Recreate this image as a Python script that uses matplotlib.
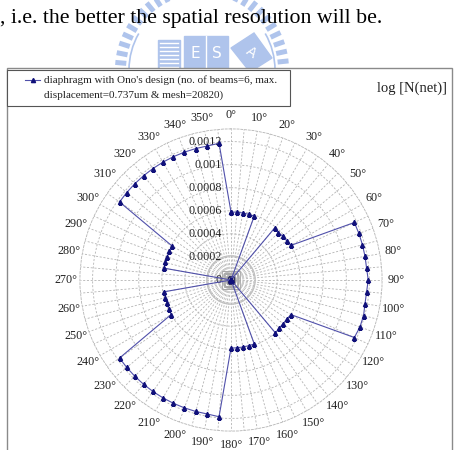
import numpy as np
import matplotlib
matplotlib.use('Agg')
import matplotlib.pyplot as plt
from matplotlib.transforms import offset_copy
from matplotlib.patches import Rectangle, Arc, Polygon

plt.rcParams['font.family'] = ['Liberation Serif', 'DejaVu Serif']

# ---------------- data ----------------
angles_deg = list(range(0, 360, 5))
n_net = [
    0.00059, 0.00059, 0.00059, 0.00059, 0.00059,          # 0-20
    0.0, 0.0, 0.0,                                          # 25-35
    0.00059, 0.00058, 0.00059, 0.00059, 0.00060,          # 40-60
    0.00118, 0.00118, 0.00118, 0.00118, 0.00118, 0.00119,
    0.00118, 0.00118, 0.00119, 0.00119, 0.00118,          # 65-115
    0.00060, 0.00059, 0.00059, 0.00059, 0.00060,          # 120-140
    0.0, 0.0, 0.0,                                          # 145-155
    0.00059, 0.00059, 0.00059, 0.00059, 0.00059,          # 160-180
    0.00119, 0.00118, 0.00118, 0.00118, 0.00118, 0.00118,
    0.00118, 0.00118, 0.00118, 0.00118, 0.00118,          # 185-235
    0.00060, 0.00059, 0.00059, 0.00059, 0.00059,          # 240-260
    0.0, 0.0, 0.0,                                          # 265-275
    0.00059, 0.00059, 0.00059, 0.00059, 0.00059,          # 280-300
    0.00118, 0.00118, 0.00118, 0.00118, 0.00118, 0.00118,
    0.00118, 0.00118, 0.00118, 0.00118, 0.00119,          # 305-355
]
radial_ticks = [0, 0.0002, 0.0004, 0.0006, 0.0008, 0.001, 0.0012]
radial_labels = ['0', '0.0002', '0.0004', '0.0006', '0.0008', '0.001', '0.0012']
label_angles = [0, 10, 20, 30, 40, 50, 60, 70, 80, 90, 100, 110, 120, 130, 140, 150, 160, 170,
                180, 190, 200, 210, 220, 230, 240, 250, 260, 270, 280, 290, 300, 310, 320, 330, 340, 350]
series_name = ["diaphragm with Ono's design (no. of beams=6, max.",
               "displacement=0.737um & mesh=20820)"]
chart_title = "log [N(net)]"
page_text = ", i.e. the better the spatial resolution will be."

# ---------------- figure ----------------
W, H = 457, 450
fig = plt.figure(figsize=(W / 100, H / 100), dpi=100)
fig.patch.set_facecolor('white')

bg = fig.add_axes([0, 0, 1, 1], zorder=0)
bg.set_xlim(0, W)
bg.set_ylim(H, 0)
bg.axis('off')

# watermark logo (light blue)
wm = '#afc4ec'
cx, cy, rr = 202, 70, 87
for a in np.arange(-20, 201, 6.5):
    t = np.deg2rad(a)
    x0, y0 = cx + (rr - 11) * np.cos(t), cy - (rr - 11) * np.sin(t)
    x1, y1 = cx + rr * np.cos(t), cy - rr * np.sin(t)
    bg.plot([x0, x1], [y0, y1], color=wm, lw=3.6, solid_capstyle='butt', zorder=0)
bg.add_patch(Arc((cx, cy), 146, 146, theta1=-30, theta2=210, color=wm, lw=1.2, zorder=0))
bg.add_patch(Rectangle((158, 40), 22, 30, color=wm, zorder=0))
for yy in range(43, 70, 4):
    bg.plot([160, 178], [yy, yy], color='white', lw=1.0, zorder=0)
bg.add_patch(Rectangle((184, 36), 44, 34, color=wm, zorder=0))
bg.plot([206, 206], [36, 70], color='white', lw=1.0, zorder=0)
bg.text(195, 53, 'E', color='white', fontsize=11, ha='center', va='center', family='DejaVu Sans', zorder=0)
bg.text(217, 53, 'S', color='white', fontsize=11, ha='center', va='center', family='DejaVu Sans', zorder=0)
bg.add_patch(Polygon([[231, 48], [254, 33], [272, 58], [250, 72]], closed=True, color=wm, zorder=0))
bg.text(251, 52, 'A', color='white', fontsize=10, ha='center', va='center', rotation=-35,
        family='DejaVu Sans', zorder=0)

# page text
bg.text(0, 18, page_text, fontsize=15.7, ha='left', va='center', color='black', zorder=2)

# chart frame (opaque)
bg.add_patch(Rectangle((7, 68), 445, 390, facecolor='white', edgecolor='#8a8a8a', lw=1.0, zorder=1))
bg.text(447, 88, chart_title, fontsize=10.5, ha='right', va='center', color='#222222', zorder=2)

# ---------------- polar plot ----------------
rmax = 0.00131
Rpx = 138.4 * rmax / 0.0012
cxp, cyp = 231, 280
ax = fig.add_axes([(cxp - Rpx) / W, (H - cyp - Rpx) / H, 2 * Rpx / W, 2 * Rpx / H],
                  projection='polar', zorder=3)
ax.set_facecolor('none')
ax.set_theta_zero_location('N')
ax.set_theta_direction(-1)
ax.set_ylim(0, rmax)

gcol = '#b4b4b4'
grid_kw = dict(color=gcol, lw=0.6, ls=(0, (2.5, 2)))
ax.set_thetagrids(angles_deg, labels=[''] * len(angles_deg))
ax.set_rgrids(radial_ticks[1:], labels=[''] * (len(radial_ticks) - 1))
ax.xaxis.grid(True, **grid_kw)
ax.yaxis.grid(True, **grid_kw)
ax.spines['polar'].set_color(gcol)
ax.spines['polar'].set_linewidth(0.6)
ax.spines['polar'].set_linestyle((0, (2.5, 2)))

# angle labels
for a in label_angles:
    ax.text(np.deg2rad(a), 0.00143, f"{a}°", ha='center', va='center', fontsize=8.7,
            color='#222222', clip_on=False, zorder=5)

# center clutter (concentric squares)
for s in [3, 5.5, 8, 10.5, 13]:
    ax.plot([0], [0], marker='s', ms=s, mfc='none', mec='#a8a8a8', mew=0.6, zorder=2)
ax.plot([0], [0], marker='s', ms=4, mfc='none', mec='#333366', mew=1.0, zorder=4)
ax.add_patch(plt.Circle((0, 0), 0.00021, transform=ax.transData._b, fill=False,
                        color='#c0c0c0', lw=0.9, zorder=2))

# radial labels along 0 deg axis
tr = offset_copy(ax.transData, fig=fig, x=-9, y=0, units='dots')
for v, lab in zip(radial_ticks, radial_labels):
    ax.text(0, v, lab, transform=tr, ha='right', va='center', fontsize=8.7, color='#222222',
            zorder=5)

theta = np.deg2rad(angles_deg + [angles_deg[0]])
vals = n_net + [n_net[0]]
line_kw = dict(color='#5050aa', lw=0.8, marker='^', ms=3.0, mfc='#10107a', mec='#10107a')
ax.plot(theta, vals, zorder=6, **line_kw)

# legend (manual box)
bg.add_patch(Rectangle((7, 70), 283, 36, facecolor='white', edgecolor='#555555', lw=0.8, zorder=8))
bg.plot([25, 32.5, 40], [80, 80, 80], zorder=9, markevery=[1], **line_kw)
bg.text(44, 80, series_name[0], fontsize=8, ha='left', va='center', color='#222222', zorder=9)
bg.text(44, 95, series_name[1], fontsize=8, ha='left', va='center', color='#222222', zorder=9)

fig.savefig('out.png', dpi=100, facecolor='white')
